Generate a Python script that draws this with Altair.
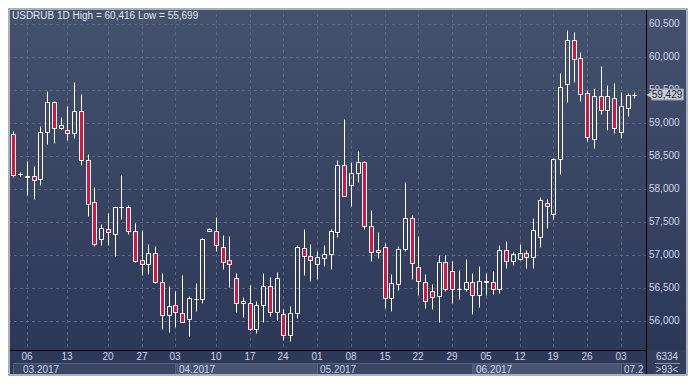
import altair as alt
import pandas as pd

symbol = "USDRUB"
timeframe = "1D"

opens = [58840, 58233, 58190, 58195, 58152, 58875, 59324, 58933, 58904, 58846,
         59179, 58445, 57804, 57240, 57404, 57325, 57732, 57732, 57370, 56936,
         56864, 57037, 56603, 56091, 56242, 56120, 56039, 56343, 56343, 57370,
         57370, 57124, 56922, 56661, 56285, 56271, 55889, 56242, 56531, 56141,
         56111, 55793, 56120, 57110, 56994, 56864, 56965, 57023, 57350, 58369,
         58065, 58243, 58416, 57442, 57052, 57124, 56352, 56569, 57090, 57563,
         56820, 56603, 56453, 56380, 56893, 56763, 56496, 56496, 56603, 56401,
         56600, 56603, 56488, 57081, 56907, 56951, 57037, 56980, 57278, 57789,
         57625, 58456, 59593, 60264, 59989, 59454, 58759, 59410, 59194, 59381,
         58875, 59227, 59429]
highs = [58880, 58267, 58427, 58359, 58966, 59487, 59330, 59101, 59256, 59618,
         59444, 58542, 58040, 57471, 57635, 57735, 58218, 57765, 57485, 57389,
         57172, 57143, 56738, 56535, 56463, 56695, 56386, 56579, 57260, 57420,
         57577, 57302, 57288, 56733, 56376, 56550, 56304, 56738, 56676, 56752,
         56184, 56236, 57158, 57399, 57168, 57066, 57158, 57393, 58445, 59068,
         58416, 58576, 58425, 57679, 57346, 57182, 56724, 57139, 58113, 57616,
         57288, 56719, 56564, 57008, 57008, 56907, 56781, 56941, 56733, 56835,
         56733, 56763, 57158, 57215, 57052, 57168, 57081, 57558, 57881, 57857,
         58474, 59762, 60416, 60384, 60081, 59502, 59541, 59863, 59574, 59603,
         59473, 59458, 59470]
lows = [58190, 58203, 57914, 57856, 58065, 58681, 58697, 58913, 58749, 58783,
        58364, 57596, 57143, 57158, 57158, 56988, 57545, 57330, 56893, 56709,
        56724, 56583, 55889, 55845, 55918, 55990, 55783, 56159, 56279, 57365,
        57061, 56800, 56525, 56149, 56062, 55875, 55831, 55990, 56083, 56025,
        55710, 55699, 56048, 56699, 56612, 56641, 56844, 56800, 57278, 57891,
        57751, 58118, 57399, 56917, 56961, 56207, 56164, 56482, 57061, 56641,
        56395, 56203, 56193, 55990, 56467, 56275, 56338, 56467, 56107, 56223,
        56395, 56415, 56424, 56806, 56860, 56922, 56806, 56815, 57119, 57409,
        57553, 58234, 59318, 59625, 59337, 58739, 58624, 59146, 58894, 58856,
        58783, 59114, 59390]
closes = [58210, 58233, 58195, 58146, 58861, 59324, 58933, 58976, 58846, 59179,
          58441, 57784, 57168, 57414, 57346, 57726, 57732, 57364, 56912, 56864,
          57037, 56593, 56091, 56227, 56135, 55996, 56347, 56343, 57254, 57395,
          57153, 56893, 56864, 56285, 56314, 55889, 56242, 56531, 56141, 56661,
          55793, 56126, 57124, 56994, 56922, 56980, 57023, 57370, 58369, 57906,
          58253, 58416, 57442, 57052, 57081, 56352, 56575, 57095, 57563, 56878,
          56617, 56314, 56372, 56893, 56496, 56488, 56496, 56603, 56401, 56617,
          56615, 56488, 57081, 56907, 57023, 57037, 56980, 57389, 57833, 57741,
          58456, 59555, 60264, 59975, 59439, 58797, 59410, 59208, 59410, 58927,
          59266, 59429, 59429]

day_idx = [2, 8, 14, 19, 24, 30, 35, 40, 45, 50, 55, 60, 65, 70, 75, 80, 85, 90]
day_labels = ["06", "13", "20", "27", "03", "10", "17", "24", "01", "08",
              "15", "22", "29", "05", "12", "19", "26", "03"]
month_start = [1, 24, 45, 68, 90]
month_labels = ["03.2017", "04.2017", "05.2017", "06.2017", "07.2017"]
price_ticks = [56000, 56500, 57000, 57500, 58000, 58500, 59000, 59500, 60000, 60500]
corner_top = "6334"
corner_bottom = ">93<"

# ---------- layout ----------
PW, PH, RP, BP = 638, 342, 42, 26
W, H = PW + RP, PH + BP
n = len(opens)
XMIN, XMAX = -0.04, n - 0.03
YMIN, YMAX = 55566, 60746

FONT = "Liberation Sans"
TXT = "#cdd6ea"
GRID = "#56647f"
RED = "#dc143c"

xs = alt.Scale(domain=[XMIN, XMAX], nice=False, zero=False, round=True)
ys = alt.Scale(domain=[YMIN, YMAX], nice=False, zero=False, round=True)

candles = pd.DataFrame({"idx": list(range(n)), "open": opens, "high": highs,
                        "low": lows, "close": closes})
candles["top"] = candles[["open", "close"]].max(axis=1)
candles["bottom"] = candles[["open", "close"]].min(axis=1)

days = pd.DataFrame({"idx": day_idx, "label": day_labels})
ticks = pd.DataFrame({"v": price_ticks, "label": [f"{v:,}" for v in price_ticks]})

starts = [XMIN if i == 0 else s for i, s in enumerate(month_start)]
ends = month_start[1:] + [XMAX]
bands = pd.DataFrame({"start": starts, "end": ends, "label": month_labels,
                      "lx": [s + 0.5 for s in month_start],
                      "shade": ["a" if i % 2 == 0 else "b" for i in range(len(month_start))]})
bands_main = bands.iloc[:-1]
bands_last = bands.iloc[-1:]
px_per_idx = PW / (XMAX - XMIN)
last_room = PW - (bands_last["lx"].iloc[0] - XMIN) * px_per_idx

# price tag: half-height of 5.5 px converted to value units
units_per_px = (YMAX - YMIN) / PH
last = pd.DataFrame({"v": [closes[-1]], "label": [f"{closes[-1]:,}"]})
last["v_top"] = last["v"] + 5.5 * units_per_px
last["v_bot"] = last["v"] - 5.5 * units_per_px

one = pd.DataFrame({"k": [0]})

title_text = f"{symbol} {timeframe} High = {max(highs):,} Low = {min(lows):,}"

grad = alt.LinearGradient(gradient="linear",
                          stops=[alt.GradientStop(color="#45526e", offset=0),
                                 alt.GradientStop(color="#2c3857", offset=1)],
                          x1=0, x2=0, y1=0, y2=1)

bg = alt.Chart(one).mark_rect(fill=grad).encode(
    x=alt.value(0), x2=alt.value(W), y=alt.value(0), y2=alt.value(PH))

band_rects = alt.Chart(bands).mark_rect(stroke="#56627e", strokeWidth=1,
                                        xOffset=0.5, x2Offset=0.5).encode(
    x=alt.X("start:Q", scale=xs, axis=None), x2="end:Q",
    y=alt.value(PH + 13.5), y2=alt.value(PH + 25.5),
    fill=alt.Fill("shade:N", scale=alt.Scale(domain=["a", "b"], range=["#394562", "#4a5572"]),
                  legend=None))

grid_h = alt.Chart(ticks).mark_rule(color=GRID, strokeDash=[3, 3], strokeWidth=1,
                                    yOffset=0.5).encode(
    y=alt.Y("v:Q", scale=ys, axis=None), x=alt.value(0), x2=alt.value(PW))

grid_v = alt.Chart(days).mark_rule(color=GRID, strokeDash=[3, 3], strokeWidth=1,
                                   xOffset=0.5).encode(
    x=alt.X("idx:Q", scale=xs, axis=None), y=alt.value(0), y2=alt.value(PH))

wick_up = alt.Chart(candles).mark_rule(color="white", strokeWidth=1, clip=True,
                                       xOffset=0.5, yOffset=0.5, y2Offset=0.5).encode(
    x=alt.X("idx:Q", scale=xs, axis=None),
    y=alt.Y("high:Q", scale=ys, axis=None), y2="top:Q")
wick_dn = alt.Chart(candles).mark_rule(color="white", strokeWidth=1, clip=True,
                                       xOffset=0.5, yOffset=0.5, y2Offset=0.5).encode(
    x=alt.X("idx:Q", scale=xs, axis=None),
    y=alt.Y("bottom:Q", scale=ys, axis=None), y2="low:Q")

bodies = alt.Chart(candles).mark_bar(size=4, stroke="white", strokeWidth=1, clip=True,
                                     xOffset=0.5, yOffset=0.5, y2Offset=0.5).encode(
    x=alt.X("idx:Q", scale=xs, axis=None),
    y=alt.Y("top:Q", scale=ys, axis=None), y2="bottom:Q",
    fill=alt.condition("datum.close >= datum.open", alt.value("rgba(0,0,0,0)"), alt.value(RED)))

vline = alt.Chart(one).mark_rule(color="#000000", strokeWidth=1).encode(
    x=alt.value(PW + 0.5), y=alt.value(0), y2=alt.value(H))
hline = alt.Chart(one).mark_rule(color="#000000", strokeWidth=1).encode(
    y=alt.value(PH + 0.5), x=alt.value(0), x2=alt.value(PW))

ylabels = alt.Chart(ticks).mark_text(align="left", baseline="middle", font=FONT,
                                     fontSize=10, color=TXT).encode(
    y=alt.Y("v:Q", scale=ys, axis=None), x=alt.value(PW + 3), text="label:N")

dlabels = alt.Chart(days).mark_text(align="center", baseline="middle", font=FONT,
                                    fontSize=10, color=TXT).encode(
    x=alt.X("idx:Q", scale=xs, axis=None), y=alt.value(PH + 7), text="label:N")

mlabels = alt.Chart(bands_main).mark_text(align="left", baseline="middle", font=FONT,
                                          fontSize=10, color=TXT).encode(
    x=alt.X("lx:Q", scale=xs, axis=None), y=alt.value(PH + 19.5), text="label:N")
mlabel_last = alt.Chart(bands_last).mark_text(align="left", baseline="middle", font=FONT,
                                              fontSize=10, color=TXT,
                                              limit=float(last_room) + 3,
                                              ellipsis="\u200b").encode(
    x=alt.X("lx:Q", scale=xs, axis=None), y=alt.value(PH + 19.5), text="label:N")

corner_bg = alt.Chart(one).mark_rect(fill="#323e5c").encode(
    x=alt.value(PW + 1), x2=alt.value(W), y=alt.value(PH), y2=alt.value(H))
corner_sep = alt.Chart(one).mark_rule(color="#8a94a8", strokeWidth=1).encode(
    x=alt.value(PW + 9), x2=alt.value(PW + 34), y=alt.value(PH + 13.5))
corner_t1 = alt.Chart(pd.DataFrame({"t": [corner_top]})).mark_text(
    align="center", baseline="middle", font=FONT, fontSize=10, color=TXT).encode(
    x=alt.value(PW + 21), y=alt.value(PH + 6.5), text="t:N")
corner_t2 = alt.Chart(pd.DataFrame({"t": [corner_bottom]})).mark_text(
    align="center", baseline="middle", font=FONT, fontSize=10, color=TXT).encode(
    x=alt.value(PW + 21), y=alt.value(PH + 19.5), text="t:N")

tag_box = alt.Chart(last).mark_rect(fill="#c4c9d2", stroke="#8d96a6", strokeWidth=1).encode(
    y=alt.Y("v_top:Q", scale=ys, axis=None), y2="v_bot:Q",
    x=alt.value(PW + 5.5), x2=alt.value(PW + 37.5))
tag_arrow = alt.Chart(last).mark_point(shape="triangle-left", size=70, filled=True,
                                       color="#c4c9d2", opacity=1).encode(
    y=alt.Y("v:Q", scale=ys, axis=None), x=alt.value(PW + 4))
price_txt = alt.Chart(last).mark_text(align="center", baseline="middle", font=FONT,
                                      fontSize=10, color="#1b2336").encode(
    y=alt.Y("v:Q", scale=ys, axis=None), x=alt.value(PW + 21), text="label:N")

title = alt.Chart(pd.DataFrame({"t": [title_text]})).mark_text(
    align="left", baseline="middle", font=FONT, fontSize=10, color="#e3e8f2").encode(
    x=alt.value(4), y=alt.value(8), text="t:N")

frame = alt.Chart(one).mark_rect(fill="rgba(0,0,0,0)", stroke="#a9b1c0", strokeWidth=2).encode(
    x=alt.value(1), x2=alt.value(W - 1), y=alt.value(1), y2=alt.value(H - 1))

chart = alt.layer(
    bg, band_rects, grid_h, grid_v, wick_up, wick_dn, bodies, vline, hline,
    ylabels, dlabels, mlabels, mlabel_last, corner_bg, corner_sep, corner_t1, corner_t2,
    tag_box, tag_arrow, price_txt, title, frame
).properties(
    width=PW, height=PH,
    padding={"left": 0, "right": RP, "top": 0, "bottom": BP},
    autosize=alt.AutoSizeParams(type="none"),
    background="#2d3958"
).configure_view(stroke=None)

chart.save("out.html", embed_options={"renderer": "svg", "actions": False})
